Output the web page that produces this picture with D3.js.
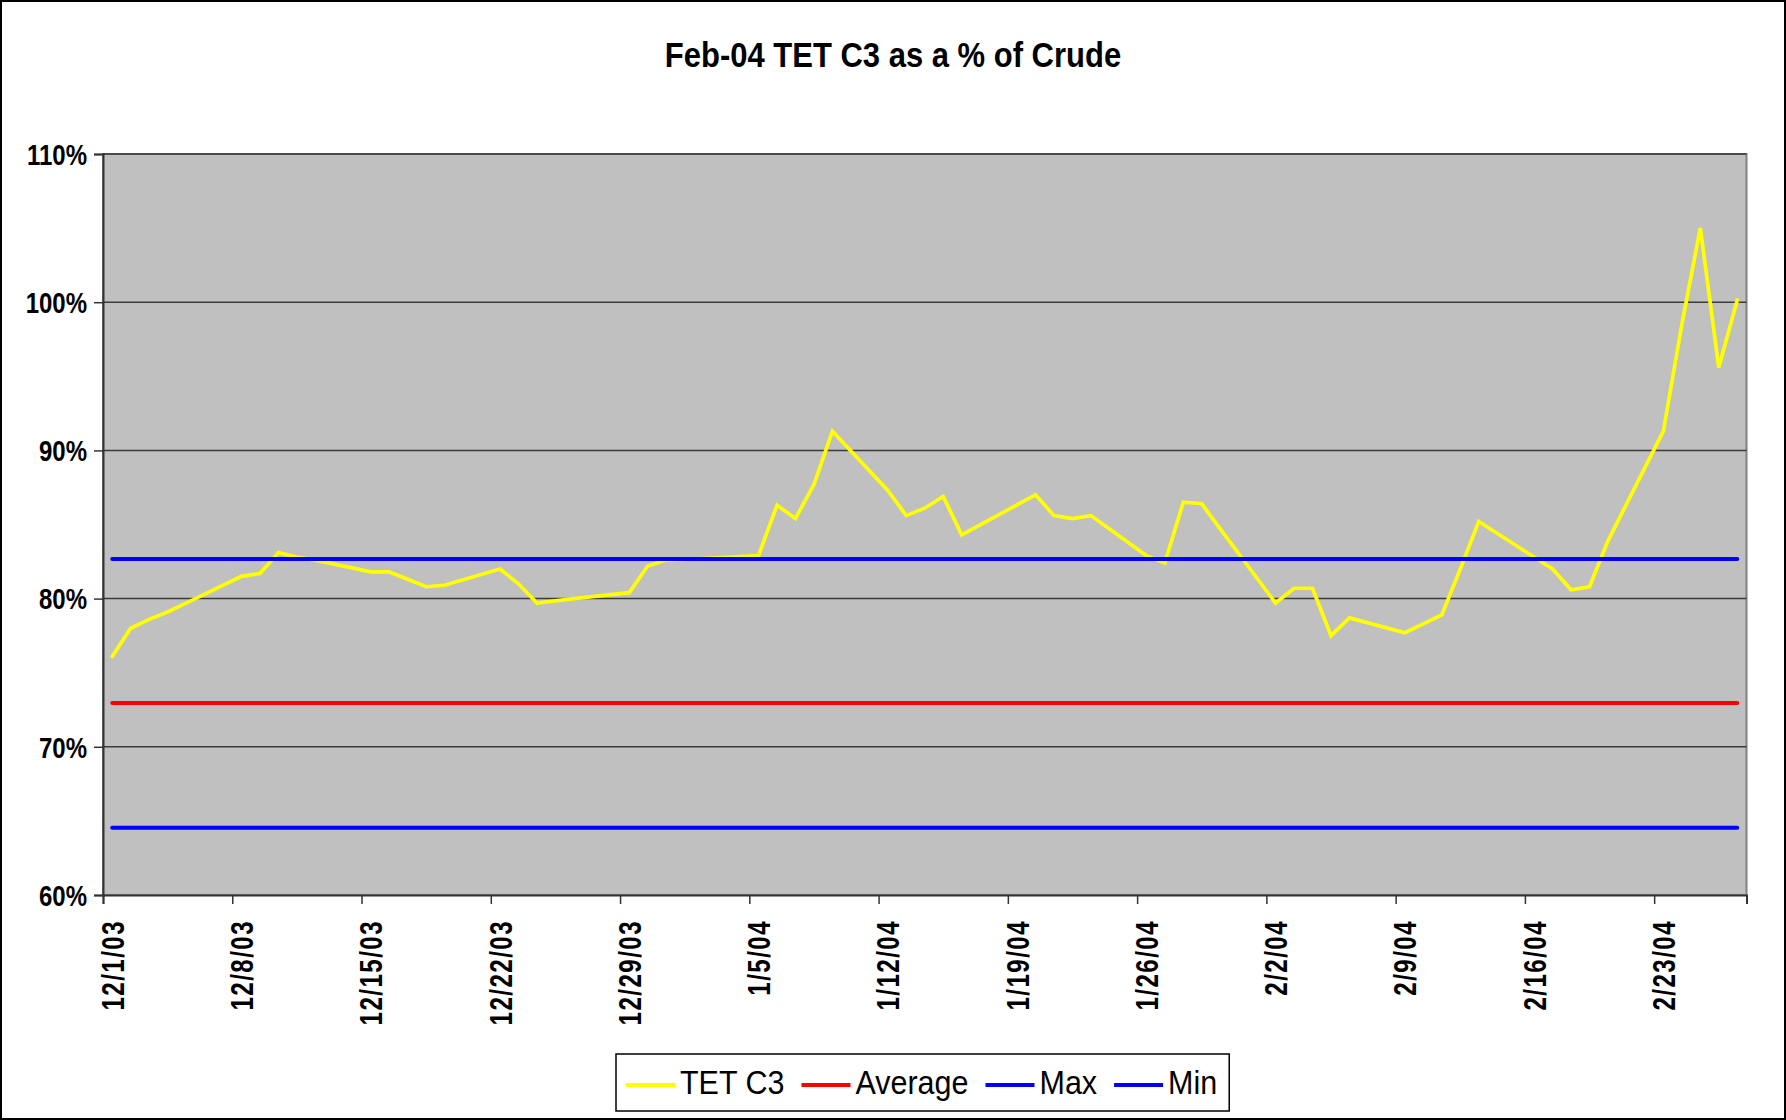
<!DOCTYPE html>
<html>
<head>
<meta charset="utf-8">
<script src="https://cdn.jsdelivr.net/npm/d3@7"></script>
<style>
  body { margin: 0; background: #fff; }
  svg { display: block; font-family: "Liberation Sans", Arial, sans-serif; }
</style>
</head>
<body>
<div id="chart"></div>
<script>
// trading days shown on the chart
var dates = [
  "12/1/03","12/2/03","12/3/03","12/4/03","12/5/03",
  "12/8/03","12/9/03","12/10/03","12/11/03","12/12/03",
  "12/15/03","12/16/03","12/17/03","12/18/03","12/19/03",
  "12/22/03","12/23/03","12/24/03","12/26/03",
  "12/29/03","12/30/03","12/31/03","1/2/04",
  "1/5/04","1/6/04","1/7/04","1/8/04","1/9/04",
  "1/12/04","1/13/04","1/14/04","1/15/04","1/16/04",
  "1/20/04","1/21/04","1/22/04","1/23/04",
  "1/26/04","1/27/04","1/28/04","1/29/04","1/30/04",
  "2/2/04","2/3/04","2/4/04","2/5/04","2/6/04",
  "2/9/04","2/10/04","2/11/04","2/12/04","2/13/04",
  "2/17/04","2/18/04","2/19/04","2/20/04",
  "2/23/04","2/24/04","2/25/04","2/26/04","2/27/04"
];
var tetC3 = [
  0.761, 0.780, 0.786, 0.791, 0.797,
  0.815, 0.817, 0.831, 0.828, 0.826,
  0.818, 0.818, 0.813, 0.808, 0.809,
  0.820, 0.810, 0.797, 0.800,
  0.804, 0.822, 0.826, 0.827,
  0.829, 0.863, 0.854, 0.877, 0.913,
  0.873, 0.856, 0.861, 0.869, 0.843,
  0.870, 0.856, 0.854, 0.856,
  0.829, 0.824, 0.865, 0.864, 0.847,
  0.797, 0.807, 0.807, 0.775, 0.787,
  0.777, 0.783, 0.789, 0.820, 0.852,
  0.820, 0.806, 0.808, 0.839,
  0.913, 0.985, 1.050, 0.956, 1.0015
];
var averageLevel = [0.7296];
var maxLevel = [0.8267];
var minLevel = [0.6454];

var seriesNames = ["TET C3", "Average", "Max", "Min"];
var seriesColors = ["#ffff00", "#ff0000", "#0000ff", "#0000ff"];

var yTicks = [0.6, 0.7, 0.8, 0.9, 1.0, 1.1];
var xTicks = ["12/1/03","12/8/03","12/15/03","12/22/03","12/29/03","1/5/04",
              "1/12/04","1/19/04","1/26/04","2/2/04","2/9/04","2/16/04","2/23/04"];

function init() {
    var w = 1786;
    var h = 1120;
    var plot = { left: 103, right: 1746.5, top: 154, bottom: 895 };

    var parse = d3.timeParse("%m/%d/%y");
    var fmt = d3.timeFormat("%-m/%-d/%y");
    var days = dates.map(parse);

    var xScale = d3.scaleTime()
                   .domain([parse("12/1/03"), parse("2/28/04")])   // one slot per day
                   .range([plot.left, plot.right]);
    var halfDay = (xScale(parse("12/2/03")) - xScale(parse("12/1/03"))) / 2;

    var yScale = d3.scaleLinear()
                   .domain([0.6, 1.1])
                   .range([plot.bottom, plot.top]);

    var svg = d3.select("#chart")
                .append("svg")
                .attr("width", w)
                .attr("height", h);

    // chart frame
    svg.append("rect")
       .attr("x", 1).attr("y", 1)
       .attr("width", w - 2).attr("height", h - 2)
       .attr("fill", "#fff")
       .attr("stroke", "#000")
       .attr("stroke-width", 2);

    svg.append("text")
       .attr("transform", "translate(893,67) scale(1,1.15)")
       .attr("text-anchor", "middle")
       .attr("font-size", 31)
       .attr("font-weight", "bold")
       .text("Feb-04 TET C3 as a % of Crude");

    // plot area
    svg.append("rect")
       .attr("x", plot.left).attr("y", plot.top)
       .attr("width", plot.right - plot.left)
       .attr("height", plot.bottom - plot.top)
       .attr("fill", "#c0c0c0")
       .attr("stroke", "#808080")
       .attr("stroke-width", 2);

    // gridlines
    svg.append("g")
       .selectAll("line")
       .data(yTicks.slice(1))
       .enter()
       .append("line")
       .attr("x1", plot.left).attr("x2", plot.right)
       .attr("y1", function(d) { return yScale(d); })
       .attr("y2", function(d) { return yScale(d); })
       .attr("stroke", "#3a3a3a")
       .attr("stroke-width", 1.5);

    // series: TET C3 plus the three flat reference levels
    var levels = [averageLevel[0], maxLevel[0], minLevel[0]];
    var series = [tetC3].concat(levels.map(function(v) {
        return days.map(function() { return v; });
    }));

    var line = d3.line()
                 .x(function(d, i) { return xScale(days[i]) + halfDay; })
                 .y(function(d) { return yScale(d); });

    svg.append("g")
       .selectAll("path")
       .data(series)
       .enter()
       .append("path")
       .attr("d", line)
       .attr("fill", "none")
       .attr("stroke", function(d, i) { return seriesColors[i]; })
       .attr("stroke-width", function(d, i) { return i === 0 ? 3.7 : 4; })
       .attr("stroke-linejoin", "miter")
       .attr("stroke-linecap", "round");

    // y axis
    var yAxis = svg.append("g")
       .attr("transform", "translate(" + plot.left + ",0)")
       .call(d3.axisLeft(yScale)
               .tickValues(yTicks)
               .tickFormat(d3.format(".0%"))
               .tickSize(9)
               .tickPadding(7));
    yAxis.select(".domain").attr("stroke", "#333").attr("stroke-width", 2);
    yAxis.selectAll(".tick line").attr("stroke", "#333").attr("stroke-width", 1.5);
    yAxis.selectAll("text")
         .attr("font-size", 24)
         .attr("font-weight", "bold")
         .attr("font-family", "Liberation Sans, Arial, sans-serif")
         .attr("fill", "#000")
         .attr("dy", "0.36em")
         .attr("transform", "scale(1,1.2)");

    // x axis
    var xAxis = svg.append("g")
       .attr("transform", "translate(0," + plot.bottom + ")")
       .call(d3.axisBottom(xScale)
               .tickValues(xTicks.map(parse))
               .tickFormat(fmt)
               .tickSize(9));
    xAxis.select(".domain").attr("stroke", "#333").attr("stroke-width", 2);
    xAxis.selectAll(".tick line").attr("stroke", "#333").attr("stroke-width", 1.5);
    xAxis.selectAll("text")
         .attr("x", null).attr("y", null).attr("dy", null)
         .attr("text-anchor", "end")
         .attr("font-size", 24)
         .attr("font-weight", "bold")
         .attr("font-family", "Liberation Sans, Arial, sans-serif")
         .attr("letter-spacing", 1.5)
         .attr("fill", "#000")
         .attr("transform", "translate(" + (halfDay + 11) + ",25) rotate(-90) scale(1,1.3)");

    // legend
    var legend = svg.append("g");
    var lx = 626, ly = 1085, sample = 49;
    var items = legend.selectAll("g")
                      .data(seriesNames)
                      .enter()
                      .append("g");
    items.each(function(name, i) {
        var g = d3.select(this);
        g.append("line")
         .attr("x1", lx).attr("x2", lx + sample)
         .attr("y1", ly).attr("y2", ly)
         .attr("stroke", seriesColors[i])
         .attr("stroke-width", 4);
        var t = g.append("text")
                 .attr("transform", "translate(" + (lx + sample + 5) + "," + (ly + 9) + ") scale(1,1.1)")
                 .attr("font-size", 30.5)
                 .text(name);
        lx += sample + 5 + t.node().getComputedTextLength() + 17;
    });
    legend.insert("rect", ":first-child")
          .attr("x", 616).attr("y", 1054)
          .attr("width", lx - 17 + 12 - 616)
          .attr("height", 57)
          .attr("fill", "#fff")
          .attr("stroke", "#000")
          .attr("stroke-width", 1.5);
}
window.onload = init;
</script>
</body>
</html>
